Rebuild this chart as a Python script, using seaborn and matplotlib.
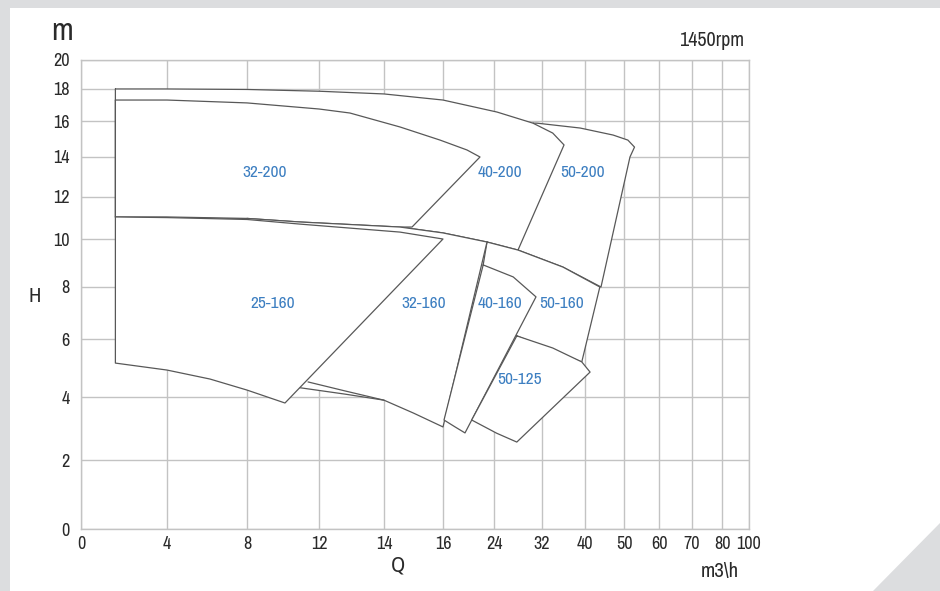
import numpy as np
import matplotlib
matplotlib.use("Agg")
import matplotlib.pyplot as plt
import seaborn as sns
from matplotlib import font_manager
from matplotlib.font_manager import FontProperties
from matplotlib.patches import Rectangle, Polygon

# ---------------- data ----------------
q_ticks = [0, 4, 8, 12, 14, 16, 24, 32, 40, 50, 60, 70, 80, 100]
h_ticks = [0, 2, 4, 6, 8, 10, 12, 14, 16, 18, 20]

# pump regions (Q in m3/h, H in m) - outline vertices
p50_200_q = [30.5, 31.2, 39.1, 47.2, 51.1, 53.0, 51.7, 44.1, 35.9, 28.0]
p50_200_h = [15.88, 15.88, 15.61, 15.22, 14.94, 14.55, 14.0, 8.0, 8.83, 9.54]

p40_200_q = [1.6, 4, 8, 12, 14, 16, 24.5, 30.5, 34, 36.1, 28.0, 22.9, 16, 14.54, 10.94, 8, 4, 1.6]
p40_200_h = [18.0, 18.0, 17.97, 17.86, 17.69, 17.31, 16.56, 15.88, 15.33, 14.67, 9.54, 9.875, 10.29, 10.57, 10.81, 10.98, 11.05, 11.05]

p32_200_q = [1.6, 4, 8, 12, 12.95, 14.54, 15.9, 19.76, 21.8, 14.95, 14.54, 10.94, 8, 4, 1.6]
p32_200_h = [17.31, 17.31, 17.13, 16.75, 16.5, 15.67, 14.94, 14.39, 14.0, 10.57, 10.57, 10.81, 10.98, 11.05, 11.05]

p50_160_q = [22.9, 28.0, 35.9, 43.8, 39.4, 27.8, 22.3]
p50_160_h = [9.875, 9.54, 8.83, 8.0, 5.21, 6.12, 8.92]

p32_160_q = [8, 10.94, 14.54, 16, 22.9, 16, 15, 14, 12.8, 10.83]
p32_160_h = [10.98, 10.81, 10.57, 10.29, 9.875, 3.05, 3.49, 3.9, 4.10, 4.33]

extra_q = [11.39, 12.8, 14]
extra_h = [4.52, 4.21, 3.9]

p25_160_q = [1.6, 4, 8, 10.94, 12.95, 14.54, 16, 10.11, 8, 6.15, 4, 1.6]
p25_160_h = [11.05, 11.02, 10.93, 10.71, 10.52, 10.33, 10.0, 3.81, 4.24, 4.62, 4.93, 5.17]

p40_160_q = [22.3, 27.2, 31.0, 19.45, 17.9, 16.16]
p40_160_h = [8.92, 8.42, 7.62, 2.86, 3.05, 3.27]

p50_125_q = [27.8, 34.0, 39.4, 41.3, 27.8, 24.45, 20.5]
p50_125_h = [6.12, 5.69, 5.21, 4.86, 2.57, 2.85, 3.27]

label_names = ["32-200", "40-200", "50-200", "25-160", "32-160", "40-160", "50-160", "50-125"]
label_q = [9.0, 25.0, 39.6, 9.4, 15.36, 25.0, 35.7, 28.3]
label_h = [13.2, 13.2, 13.2, 7.35, 7.35, 7.35, 7.35, 4.59]

# ---------------- layout (axis positions of tick values) ----------------
q_pos = [0, .1287, .2485, .3563, .4536, .5419, .6183, .6901, .7545, .8129, .8653, .9147, .9596, 1.0]
h_pos = [0, .1471, .2814, .4051, .5160, .6183, .7079, .7932, .8699, .9382, 1.0]

sns.set_style("white")


def pick_condensed():
    best = None
    for f in font_manager.fontManager.ttflist:
        n = f.name
        if f.style != 'normal' or 'Mono' in n or 'Serif' in n or 'CJK' in n:
            continue
        w = f.weight
        if isinstance(w, str):
            ok = w.lower() in ('normal', 'regular', 'book', '400')
        else:
            ok = int(w) == 400
        if not ok:
            continue
        st = str(f.stretch).lower()
        score = None
        if 'narrow' in n.lower():
            score = 0
        elif 'condensed' in n.lower() or st in ('condensed', 'semi-condensed', '300', '400'):
            score = 1 if 'semi' not in st else 2
        elif st not in ('normal', '500'):
            score = 3
        if score is not None and (best is None or score < best[0]):
            best = (score, f.fname)
    return best[1] if best else None


fname = pick_condensed()
if fname:
    def FP(size):
        return FontProperties(fname=fname, size=size)
    scale = 1.0
else:
    def FP(size):
        return FontProperties(family=['Roboto', 'DejaVu Sans'], size=size)
    scale = 0.85

fig = plt.figure(figsize=(9.4, 5.91), dpi=100, facecolor='white')
ax = fig.add_axes([81/940, 1-529/591, (749-81)/940, (529-60)/591])

ax.set_xscale('function', functions=(lambda v: np.interp(v, q_ticks, q_pos),
                                     lambda p: np.interp(p, q_pos, q_ticks)))
ax.set_yscale('function', functions=(lambda v: np.interp(v, h_ticks, h_pos),
                                     lambda p: np.interp(p, h_pos, h_ticks)))
ax.set_xlim(0, 100)
ax.set_ylim(0, 20)

GRID = '#c3c3c3'
EDGE = '#585858'
TXT = '#2a2a2a'
ax.set_xticks(q_ticks)
ax.set_xticklabels([str(t) for t in q_ticks])
ax.set_yticks(h_ticks)
ax.set_yticklabels([str(t) for t in h_ticks])
ax.grid(True, color=GRID, lw=1.0, zorder=0)
ax.set_axisbelow(True)
for s in ax.spines.values():
    s.set_color(GRID)
    s.set_linewidth(1.0)
ax.tick_params(length=0, colors=TXT)
ax.tick_params(axis='x', pad=5)
ax.tick_params(axis='y', pad=8)
for lab in ax.get_xticklabels() + ax.get_yticklabels():
    lab.set_fontproperties(FP(13 * scale))

regions = [(p50_200_q, p50_200_h), (p40_200_q, p40_200_h), (p32_200_q, p32_200_h),
           (p50_160_q, p50_160_h), (p32_160_q, p32_160_h), None,
           (p25_160_q, p25_160_h), (p40_160_q, p40_160_h), (p50_125_q, p50_125_h)]
z = 2
for reg in regions:
    if reg is None:
        sns.lineplot(x=extra_q, y=extra_h, sort=False, estimator=None, color=EDGE,
                     lw=0.9, ax=ax, zorder=z)
        z += 1
        continue
    qq, hh = reg
    ax.fill(qq, hh, facecolor='white', edgecolor='none', zorder=z)
    sns.lineplot(x=list(qq) + [qq[0]], y=list(hh) + [hh[0]], sort=False, estimator=None,
                 color=EDGE, lw=0.9, ax=ax, zorder=z + 0.5)
    z += 1

for name, qv, hv in zip(label_names, label_q, label_h):
    ax.text(qv, hv, name, color='#3d7fc1', fontproperties=FP(12.5 * scale),
            ha='center', va='center', zorder=30)

ax.set_xlabel('')
ax.set_ylabel('')

fig.text(62/940, 1-31/591, 'm', fontproperties=FP(23 * scale), ha='center', va='center', color=TXT)
fig.text(712/940, 1-40/591, '1450rpm', fontproperties=FP(14.5 * scale), ha='center', va='center', color=TXT)
fig.text(35/940, 1-297/591, 'H', fontproperties=FP(15 * scale), ha='center', va='center', color=TXT)
fig.text(398/940, 1-566/591, 'Q', fontproperties=FP(16 * scale), ha='center', va='center', color=TXT)
fig.text(720/940, 1-572/591, 'm3\\h', fontproperties=FP(15 * scale), ha='center', va='center', color=TXT)

# decorative frame
fig.patches.append(Rectangle((0, 1-8/591), 1, 8/591, transform=fig.transFigure,
                             facecolor='#dcdddf', edgecolor='none', zorder=-1))
fig.patches.append(Rectangle((0, 0), 10/940, 1, transform=fig.transFigure,
                             facecolor='#dcdddf', edgecolor='none', zorder=-1))
fig.patches.append(Polygon([(873/940, 0), (1, 0), (1, 68/591)], closed=True,
                           transform=fig.transFigure, facecolor='#dcdddf', edgecolor='none', zorder=-1))

fig.savefig('out.png', dpi=100, facecolor='white')
